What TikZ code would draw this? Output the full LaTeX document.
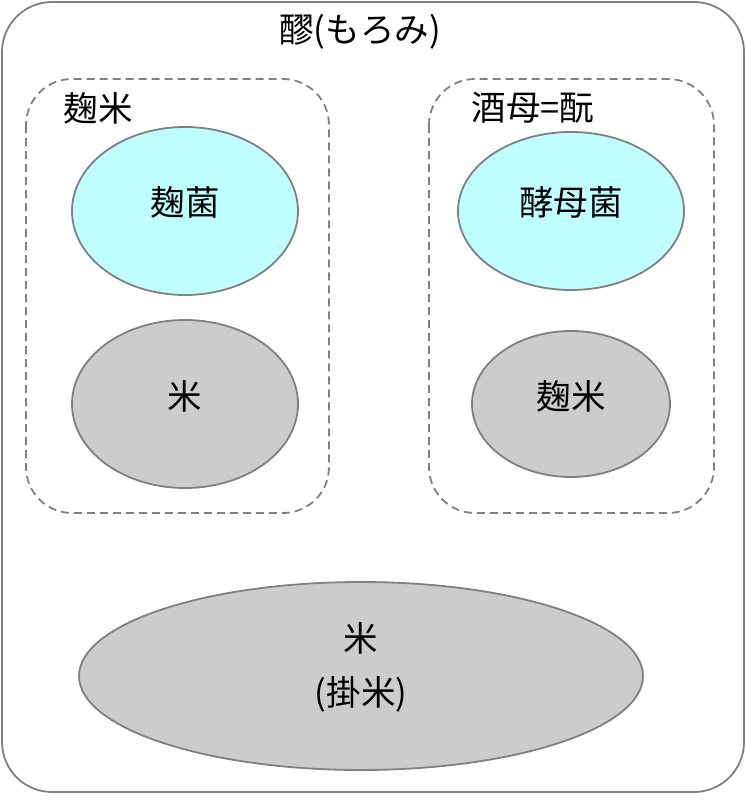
\documentclass[tikz,border=0pt]{standalone}
\usepackage{fontspec}
\setmainfont{Noto Sans CJK JP}
\usetikzlibrary{shapes.geometric}
\definecolor{edge}{HTML}{808080}
\definecolor{cyanfill}{HTML}{C0FFFF}
\definecolor{grayfill}{HTML}{CCCCCC}
\tikzset{
  lbl/.style={font=\fontsize{34.5}{40}\selectfont, inner sep=0pt},
  outerbox/.style={draw=edge, line width=1.8pt, rounded corners=50pt},
  group/.style={draw=edge, line width=1.8pt, dash pattern=on 8pt off 5pt, rounded corners=46pt},
  cyanell/.style={ellipse, draw=edge, line width=1.8pt, fill=cyanfill, inner sep=0pt},
  grayell/.style={ellipse, draw=edge, line width=1.8pt, fill=grayfill, inner sep=0pt},
}
\begin{document}
\begin{tikzpicture}[x=1pt,y=-1pt]
\useasboundingbox (0,0) rectangle (746,800);
\draw[outerbox] (2,2) rectangle (744,792);
\node[lbl] (title) at (360,32) {醪(もろみ)};
\draw[group] (26,79) rectangle (329,513);
\node[lbl] (lkoji) at (98,108) {麹米};
\draw[group] (429,79) rectangle (714,513);
\node[lbl] (lshubo) at (533,108) {酒母=酛};
\node[cyanell, minimum width=226pt, minimum height=168pt] (kojikin) at (185,211) {};
\node[lbl] at (185,202) {麹菌};
\node[grayell, minimum width=226pt, minimum height=168pt] (kome) at (185,404) {};
\node[lbl] at (185,396) {米};
\node[cyanell, minimum width=226pt, minimum height=158pt] (koubo) at (571,211) {};
\node[lbl] at (571,202) {酵母菌};
\node[grayell, minimum width=198pt, minimum height=146pt] (kojimai) at (571,404) {};
\node[lbl] at (571,396) {麹米};
\node[grayell, minimum width=564pt, minimum height=188pt] (kakemai) at (361,676) {};
\node[lbl] at (361,638) {米};
\node[lbl] at (361,694) {(掛米)};
\end{tikzpicture}
\end{document}
